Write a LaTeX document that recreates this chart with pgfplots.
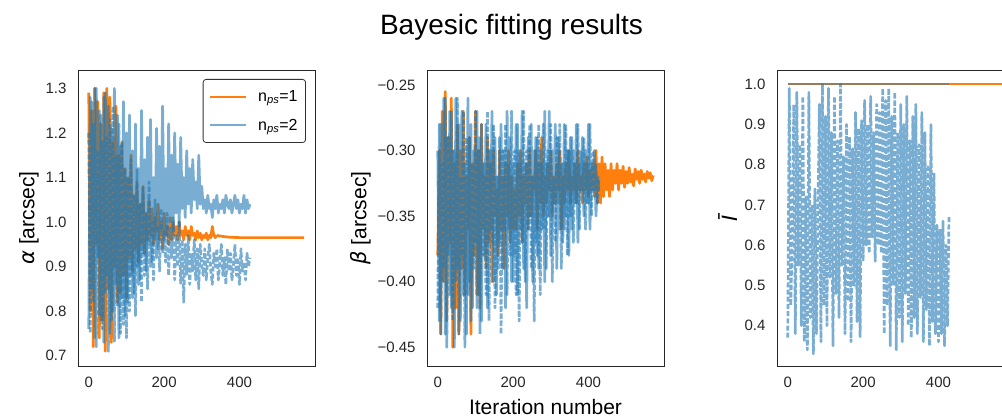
\documentclass[border=0pt]{standalone}
\usepackage{pgfplots}
\pgfplotsset{compat=1.18}
\usepackage{pgfplotstable}
\usepackage{fontspec}
\setmainfont{Liberation Sans}
\newfontfamily\dejavu{DejaVu Sans}
\definecolor{tabblue}{HTML}{1F77B4}
\definecolor{taborange}{HTML}{FF7F0E}
\definecolor{tickgray}{HTML}{262626}

% ---------- alpha panel ----------
\pgfplotstableread[header=false,row sep=\\]{1.29\\0.80\\1.25\\0.72\\1.30\\0.95\\1.27\\0.74\\1.22\\0.78\\1.29\\0.71\\1.30\\0.85\\1.28\\0.73\\1.18\\0.90\\1.26\\0.82\\1.15\\0.84\\1.18\\0.88\\1.12\\0.83\\1.10\\0.92\\1.15\\0.89\\1.06\\0.94\\1.09\\0.91\\1.04\\0.95\\1.08\\0.93\\1.02\\0.96\\1.05\\0.97\\1.03\\0.95\\1.01\\0.98\\1.04\\0.96\\1.00\\0.94\\1.02\\0.97\\0.99\\0.95\\1.01\\0.96\\1.00\\0.97\\0.99\\0.96\\1.00\\0.97\\0.98\\0.96\\0.99\\0.97\\0.98\\0.96\\0.99\\0.97\\0.975\\0.96\\0.98\\0.965\\0.975\\0.96\\0.97\\0.965\\0.975\\0.96\\0.97\\0.965\\0.99\\0.97\\0.965\\0.97\\}\aO
\pgfplotstableread[header=false,row sep=\\]{0.76\\1.28\\0.85\\1.22\\0.74\\1.30\\0.92\\1.25\\0.78\\1.18\\0.73\\1.29\\0.88\\1.26\\0.75\\1.21\\0.80\\1.30\\0.86\\1.24\\0.74\\1.17\\0.83\\1.27\\0.79\\1.20\\0.82\\1.24\\0.88\\1.16\\0.84\\1.22\\0.90\\1.12\\0.87\\1.25\\0.93\\1.14\\0.89\\1.19\\0.95\\1.23\\0.91\\1.10\\0.96\\1.21\\0.94\\1.17\\0.98\\1.26\\0.96\\1.12\\0.97\\1.22\\1.00\\1.15\\0.98\\1.20\\1.02\\1.13\\0.99\\1.19\\1.03\\1.10\\1.01\\1.16\\1.04\\1.12\\1.02\\1.14\\1.05\\1.09\\1.03\\1.15\\1.04\\1.08\\1.03\\1.05\\1.02\\1.06\\1.03\\1.04\\1.01\\1.05\\1.03\\1.06\\1.02\\1.04\\1.03\\1.05\\1.02\\1.06\\1.04\\1.03\\1.05\\1.02\\1.04\\1.06\\1.03\\1.05\\1.02\\1.04\\1.03\\1.06\\1.02\\1.05\\1.03\\1.04\\}\aBs
\pgfplotstableread[header=false,row sep=\\]{1.20\\0.75\\1.27\\0.82\\1.30\\0.72\\1.16\\0.79\\1.24\\0.76\\1.28\\0.84\\1.19\\0.71\\1.23\\0.78\\1.26\\0.73\\1.15\\0.81\\1.22\\0.75\\1.18\\0.77\\1.12\\0.74\\1.10\\0.80\\1.14\\0.83\\1.06\\0.79\\1.12\\0.86\\1.04\\0.82\\1.08\\0.88\\1.02\\0.85\\1.09\\0.90\\1.00\\0.87\\1.05\\0.92\\0.99\\0.89\\1.03\\0.93\\0.98\\0.91\\1.02\\0.88\\0.99\\0.92\\1.01\\0.87\\0.97\\0.90\\1.00\\0.86\\0.96\\0.82\\0.95\\0.88\\0.97\\0.86\\0.93\\0.89\\0.96\\0.87\\0.94\\0.85\\0.95\\0.90\\0.88\\0.94\\0.87\\0.92\\0.95\\0.89\\0.86\\0.93\\0.90\\0.94\\0.87\\0.91\\0.95\\0.88\\0.92\\0.86\\0.94\\0.89\\0.93\\0.87\\0.90\\0.95\\0.88\\0.92\\0.86\\0.94\\0.89\\0.91\\0.87\\0.93\\0.90\\0.92\\}\aBd

% ---------- beta panel ----------
\pgfplotstableread[header=false,row sep=\\]{-0.38\\-0.30\\-0.44\\-0.27\\-0.40\\-0.255\\-0.43\\-0.29\\-0.37\\-0.26\\-0.45\\-0.31\\-0.42\\-0.28\\-0.44\\-0.30\\-0.39\\-0.27\\-0.41\\-0.32\\-0.36\\-0.29\\-0.44\\-0.31\\-0.38\\-0.27\\-0.41\\-0.30\\-0.42\\-0.28\\-0.36\\-0.32\\-0.39\\-0.29\\-0.37\\-0.31\\-0.40\\-0.30\\-0.35\\-0.33\\-0.38\\-0.30\\-0.36\\-0.32\\-0.39\\-0.31\\-0.35\\-0.30\\-0.37\\-0.32\\-0.36\\-0.33\\-0.36\\-0.31\\-0.35\\-0.30\\-0.37\\-0.32\\-0.34\\-0.31\\-0.36\\-0.30\\-0.35\\-0.32\\-0.33\\-0.30\\-0.36\\-0.31\\-0.34\\-0.29\\-0.35\\-0.32\\-0.34\\-0.31\\-0.33\\-0.30\\-0.35\\-0.32\\-0.34\\-0.31\\-0.33\\-0.30\\-0.36\\-0.32\\-0.34\\-0.31\\-0.33\\-0.30\\-0.34\\-0.32\\-0.33\\-0.31\\-0.34\\-0.30\\-0.33\\-0.32\\-0.34\\-0.31\\-0.33\\-0.305\\-0.335\\-0.315\\-0.33\\-0.31\\-0.335\\-0.30\\-0.34\\-0.31\\-0.34\\-0.305\\-0.335\\-0.31\\-0.33\\-0.315\\-0.335\\-0.31\\-0.33\\-0.315\\-0.325\\-0.31\\-0.33\\-0.315\\-0.325\\-0.312\\-0.328\\-0.316\\-0.325\\-0.313\\-0.324\\-0.318\\-0.327\\-0.314\\-0.322\\-0.316\\-0.325\\-0.315\\-0.322\\-0.318\\-0.324\\-0.316\\-0.321\\-0.317\\-0.323\\-0.319\\}\bO
\pgfplotstableread[header=false,row sep=\\]{-0.30\\-0.43\\-0.28\\-0.40\\-0.26\\-0.44\\-0.29\\-0.38\\-0.27\\-0.42\\-0.30\\-0.45\\-0.26\\-0.39\\-0.28\\-0.43\\-0.27\\-0.41\\-0.31\\-0.44\\-0.26\\-0.40\\-0.28\\-0.42\\-0.30\\-0.37\\-0.27\\-0.41\\-0.29\\-0.43\\-0.31\\-0.38\\-0.28\\-0.42\\-0.30\\-0.36\\-0.27\\-0.40\\-0.29\\-0.41\\-0.32\\-0.37\\-0.28\\-0.39\\-0.30\\-0.42\\-0.27\\-0.36\\-0.29\\-0.40\\-0.31\\-0.38\\-0.28\\-0.41\\-0.30\\-0.36\\-0.27\\-0.39\\-0.31\\-0.42\\-0.29\\-0.35\\-0.28\\-0.40\\-0.30\\-0.37\\-0.29\\-0.39\\-0.30\\-0.36\\-0.28\\-0.40\\-0.31\\-0.35\\-0.27\\-0.38\\-0.30\\-0.34\\-0.28\\-0.39\\-0.29\\-0.36\\-0.31\\-0.37\\-0.28\\-0.35\\-0.30\\-0.38\\-0.29\\-0.36\\-0.30\\-0.34\\-0.28\\-0.37\\-0.31\\-0.33\\-0.29\\-0.35\\-0.30\\-0.34\\-0.28\\-0.36\\-0.31\\-0.33\\-0.30\\-0.35\\-0.32\\-0.33\\}\bBs
\pgfplotstableread[header=false,row sep=\\]{-0.42\\-0.28\\-0.44\\-0.31\\-0.39\\-0.26\\-0.45\\-0.29\\-0.41\\-0.27\\-0.43\\-0.30\\-0.40\\-0.26\\-0.44\\-0.32\\-0.38\\-0.27\\-0.45\\-0.29\\-0.41\\-0.29\\-0.43\\-0.31\\-0.39\\-0.27\\-0.42\\-0.30\\-0.44\\-0.28\\-0.38\\-0.31\\-0.41\\-0.27\\-0.43\\-0.30\\-0.37\\-0.28\\-0.42\\-0.32\\-0.39\\-0.29\\-0.44\\-0.30\\-0.36\\-0.28\\-0.41\\-0.31\\-0.38\\-0.27\\-0.40\\-0.30\\-0.41\\-0.28\\-0.43\\-0.31\\-0.37\\-0.27\\-0.40\\-0.30\\-0.36\\-0.28\\-0.39\\-0.32\\-0.43\\-0.29\\-0.38\\-0.28\\-0.41\\-0.31\\-0.36\\-0.27\\-0.39\\-0.30\\-0.35\\-0.28\\-0.40\\-0.32\\-0.37\\-0.29\\-0.34\\-0.28\\-0.39\\-0.31\\-0.36\\-0.28\\-0.38\\-0.30\\-0.35\\-0.29\\-0.37\\-0.31\\-0.34\\-0.28\\-0.36\\-0.30\\-0.33\\-0.29\\-0.36\\-0.31\\-0.34\\-0.28\\-0.35\\-0.30\\-0.33\\-0.31\\-0.34\\-0.32\\}\bBd

% ---------- I-bar panel ----------
\pgfplotstableread[header=false,row sep=\\]{0.37\\0.99\\0.45\\0.62\\0.95\\0.38\\0.98\\0.55\\0.85\\0.40\\0.97\\0.36\\0.72\\0.34\\0.98\\0.42\\0.70\\0.33\\0.74\\0.38\\0.68\\0.95\\0.36\\1.00\\0.45\\0.92\\0.40\\0.99\\0.52\\0.88\\0.35\\0.97\\0.48\\0.86\\0.42\\1.00\\0.55\\0.82\\0.38\\0.90\\0.46\\0.87\\0.36\\0.84\\0.50\\0.93\\0.41\\0.89\\0.37\\0.91\\0.56\\0.96\\0.60\\0.90\\0.58\\0.97\\0.62\\0.88\\0.56\\0.95\\0.60\\0.93\\0.58\\0.99\\0.38\\0.96\\0.45\\0.99\\0.35\\0.92\\0.50\\0.98\\0.34\\0.88\\0.42\\0.95\\0.36\\0.90\\0.48\\0.97\\0.40\\0.86\\0.37\\0.92\\0.42\\0.95\\0.38\\0.85\\0.47\\0.93\\0.36\\0.88\\0.44\\0.80\\0.35\\0.90\\0.41\\0.78\\0.38\\0.65\\0.36\\0.64\\0.38\\0.66\\0.35\\0.60\\0.40\\0.67\\}\iBd

\pgfplotsset{
  panel/.style={
    scale only axis, width=237pt, height=296pt,
    anchor=south west,
    xmin=-28.6, xmax=600.6,
    xtick={0,200,400}, xticklabels={0,200,400},
    major tick length=0pt,
    axis line style={black!85, line width=0.9pt},
    tick label style={font=\fontsize{15}{18}\selectfont, text=tickgray},
    xticklabel style={yshift=-7pt},
    yticklabel style={xshift=-8pt},
    ylabel style={font=\fontsize{21}{25}\selectfont, text=black},
    legend image code/.code={\draw[##1, line width=2pt] (0pt,0pt) -- (36pt,0pt);},
  },
  s1/.style={taborange, line width=2.7pt, line join=round},
  s2/.style={tabblue, opacity=0.6, line width=2.7pt, line join=round},
  s2d/.style={tabblue, opacity=0.6, line width=2.7pt, line join=round, dash pattern=on 5pt off 2.2pt},
}

\begin{document}
\begin{tikzpicture}[x=1pt,y=1pt]
\useasboundingbox (0,0) rectangle (1002,418);
\clip (0,0) rectangle (1002,418);

% Panel 1: alpha
\begin{axis}[panel, at={(78pt,52pt)},
  ymin=0.677, ymax=1.341,
  ytick={0.7,0.8,0.9,1.0,1.1,1.2,1.3},
  yticklabels={0.7,0.8,0.9,1.0,1.1,1.2,1.3},
  ylabel={{\dejavu\itshape α} [arcsec]},
  legend style={at={(1,1)}, anchor=north east, xshift=-9pt, yshift=-9pt,
    draw=black!80, line width=0.8pt, rounded corners=3pt,
    font=\fontsize{16}{19}\selectfont, inner xsep=6pt, inner ysep=9pt, row sep=12pt,
    /tikz/every odd column/.append style={column sep=9pt}},
  legend cell align=left,
]
\addplot[s1] table[x expr=\coordindex*4, y index=0] {\aO};
\addlegendentry{n\textsubscript{\textit{ps}}=1}
\addplot[s1, forget plot] coordinates {(340,0.97) (352,0.968) (372,0.966) (400,0.965) (572,0.965)};
\addplot[s2] table[x expr=\coordindex*4, y index=0] {\aBs};
\addlegendentry{n\textsubscript{\textit{ps}}=2}
\addplot[s2d, forget plot] table[x expr=\coordindex*4, y index=0] {\aBd};
\end{axis}

% Panel 2: beta
\begin{axis}[panel, at={(427pt,52pt)},
  ymin=-0.4643, ymax=-0.2386,
  ytick={-0.45,-0.40,-0.35,-0.30,-0.25},
  yticklabels={−0.45,−0.40,−0.35,−0.30,−0.25},
  ylabel={{\dejavu\itshape β} [arcsec]},
]
\addplot[s1] table[x expr=\coordindex*4, y index=0] {\bO};
\addplot[s2] table[x expr=\coordindex*4, y index=0] {\bBs};
\addplot[s2d] table[x expr=\coordindex*4, y index=0] {\bBd};
\end{axis}

% Panel 3: I-bar
\begin{axis}[panel, at={(777pt,52pt)},
  ymin=0.2997, ymax=1.0356,
  ytick={0.4,0.5,0.6,0.7,0.8,0.9,1.0},
  yticklabels={0.4,0.5,0.6,0.7,0.8,0.9,1.0},
  ylabel={{\dejavu\itshape Ī}},
]
\addplot[taborange, line width=2.2pt] coordinates {(0,1.0) (572,1.0)};
\addplot[tabblue, opacity=0.45, line width=2.2pt] coordinates {(0,1.0) (428,1.0)};
\addplot[s2d] table[x expr=\coordindex*4, y index=0] {\iBd};
\end{axis}

\node[anchor=base, font=\fontsize{28}{34}\selectfont] at (511.5,383) {Bayesic fitting results};
\node[anchor=base, font=\fontsize{21}{25}\selectfont] at (545.5,4) {Iteration number};
\end{tikzpicture}
\end{document}
